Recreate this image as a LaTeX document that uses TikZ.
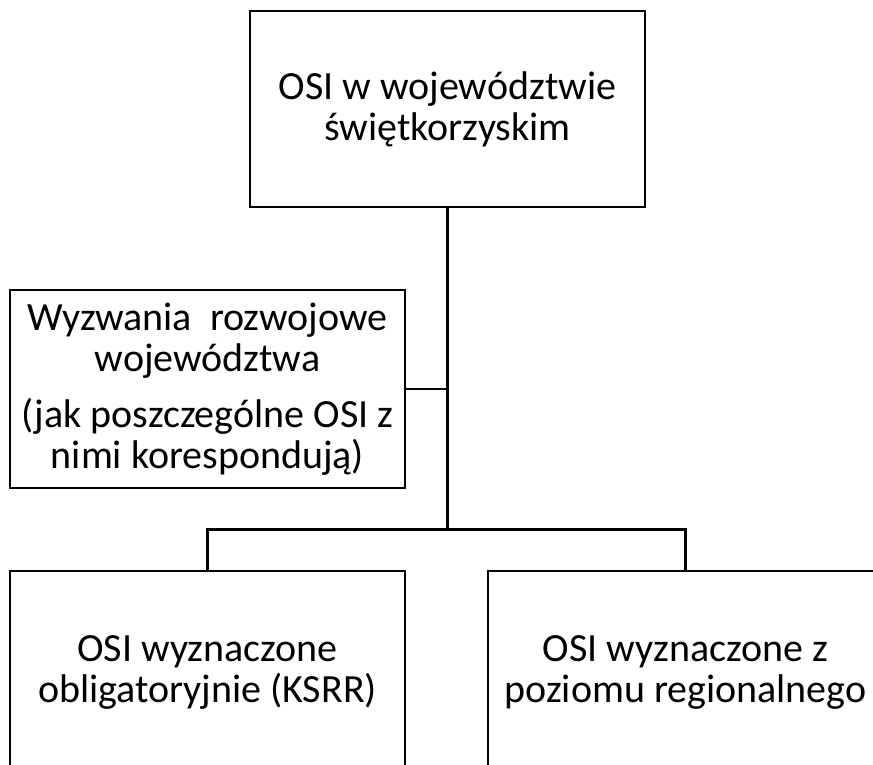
\documentclass[tikz,border=0pt]{standalone}
\usepackage{fontspec}
\setmainfont{Carlito}
\usepackage{tikz}
\usetikzlibrary{calc}
\usetikzlibrary{positioning}
\tikzstyle{block} = [draw, line width=2.8pt, rectangle, align=center,
    inner sep=0pt, minimum width=395pt,
    font=\fontsize{40}{41}\selectfont]
\tikzstyle{wire} = [line width=2.8pt]

\begin{document}
\begin{tikzpicture}[x=1pt, y=-1pt]
    \useasboundingbox (0,0) rectangle (873,764);
    \clip (0,0) rectangle (873,764);
    % We start by placing the blocks
    \node [block, minimum height=196pt] (osi) at (447.5,109) {OSI w województwie\\świętkorzyskim};
    \node [block, minimum height=198pt] (challenge) at (207.5,389)
        {Wyzwania \ rozwojowe\\województwa\\[15pt](jak poszczególne OSI z\\nimi korespondują)};
    \node [block, minimum height=202pt] (oblig) at (207.5,672) {OSI wyznaczone\\obligatoryjnie (KSRR)};
    \node [block, minimum height=202pt] (regio) at (685.5,672) {OSI wyznaczone z\\poziomu regionalnego};
    \coordinate (bus) at (osi.south |- 0,529.5);

    % Then the connecting lines
    \draw [wire] (osi) -- (bus);
    \draw [wire] (challenge.east) -- (challenge.east -| bus);
    \draw [wire] (oblig.north) |- (bus) -| (regio.north);
\end{tikzpicture}
\end{document}
